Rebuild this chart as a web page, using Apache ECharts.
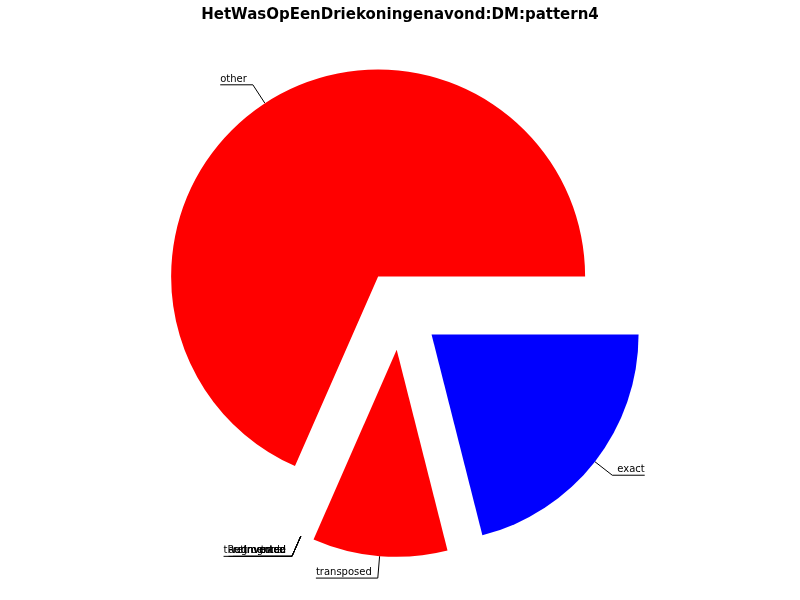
<!DOCTYPE html>
<html><head><meta charset="utf-8">
<script src="https://cdn.jsdelivr.net/npm/echarts@6/dist/echarts.min.js"></script>
<style>html,body{margin:0;padding:0;background:#fff}#c{width:800px;height:600px}</style>
</head><body><div id="c"></div>
<script>
const titleText = 'HetWasOpEenDriekoningenavond:DM:pattern4';
const categories = ['other', 'tonal', 'inverted', 'retrograde', 'augmented', 'tRetInverted', 'transposed', 'exact'];
const values = [13, 0, 0, 0, 0, 0, 2, 4];
const sliceColors = ['#ff0000', '#ff0000', '#ff0000', '#ff0000', '#ff0000', '#ff0000', '#ff0000', '#0000ff'];

const FONT = '"DejaVu Sans", sans-serif';
const cv = document.createElement('canvas').getContext('2d');
cv.font = '10px ' + FONT;
const total = values.reduce((a, b) => a + b, 0);
let cum = 0;
const data = categories.map((name, i) => {
  const mid = (cum + values[i] / 2) / total * 2 * Math.PI;
  cum += values[i];
  const right = Math.cos(mid) >= 0;
  const w = cv.measureText(name).width;
  const pad = right ? 5 : 6;
  return {
    name: name,
    value: values[i],
    selected: true,
    itemStyle: { color: sliceColors[i] },
    label: { distanceToLabelLine: -w },
    labelLine: { length2: w + pad }
  };
});

const chart = echarts.init(document.getElementById('c'), null, { renderer: 'canvas' });
chart.setOption({
  animation: false,
  backgroundColor: '#ffffff',
  title: {
    text: titleText, left: 'center', top: 3,
    textStyle: { fontFamily: FONT, fontSize: 15, fontWeight: 'bold', color: '#000' }
  },
  series: [{
    type: 'pie',
    center: [400, 310],
    radius: [0, 207],
    startAngle: 0,
    clockwise: false,
    selectedMode: 'multiple',
    selectedOffset: 40,
    avoidLabelOverlap: false,
    minShowLabelAngle: 0,
    stillShowZeroSum: true,
    itemStyle: { borderWidth: 0 },
    emphasis: { disabled: true },
    select: { itemStyle: { borderWidth: 0 } },
    labelLayout: { hideOverlap: false },
    label: {
      show: true, position: 'outside',
      formatter: '{u|{b}}',
      fontFamily: FONT, fontSize: 10, color: '#000',
      rich: {
        u: { fontFamily: FONT, fontSize: 10, color: '#000', padding: [0, 0, 11, 0] }
      }
    },
    labelLine: { show: true, length: 22, smooth: false, lineStyle: { color: '#000', width: 1 } },
    data: data
  }]
});
</script>
</body></html>
